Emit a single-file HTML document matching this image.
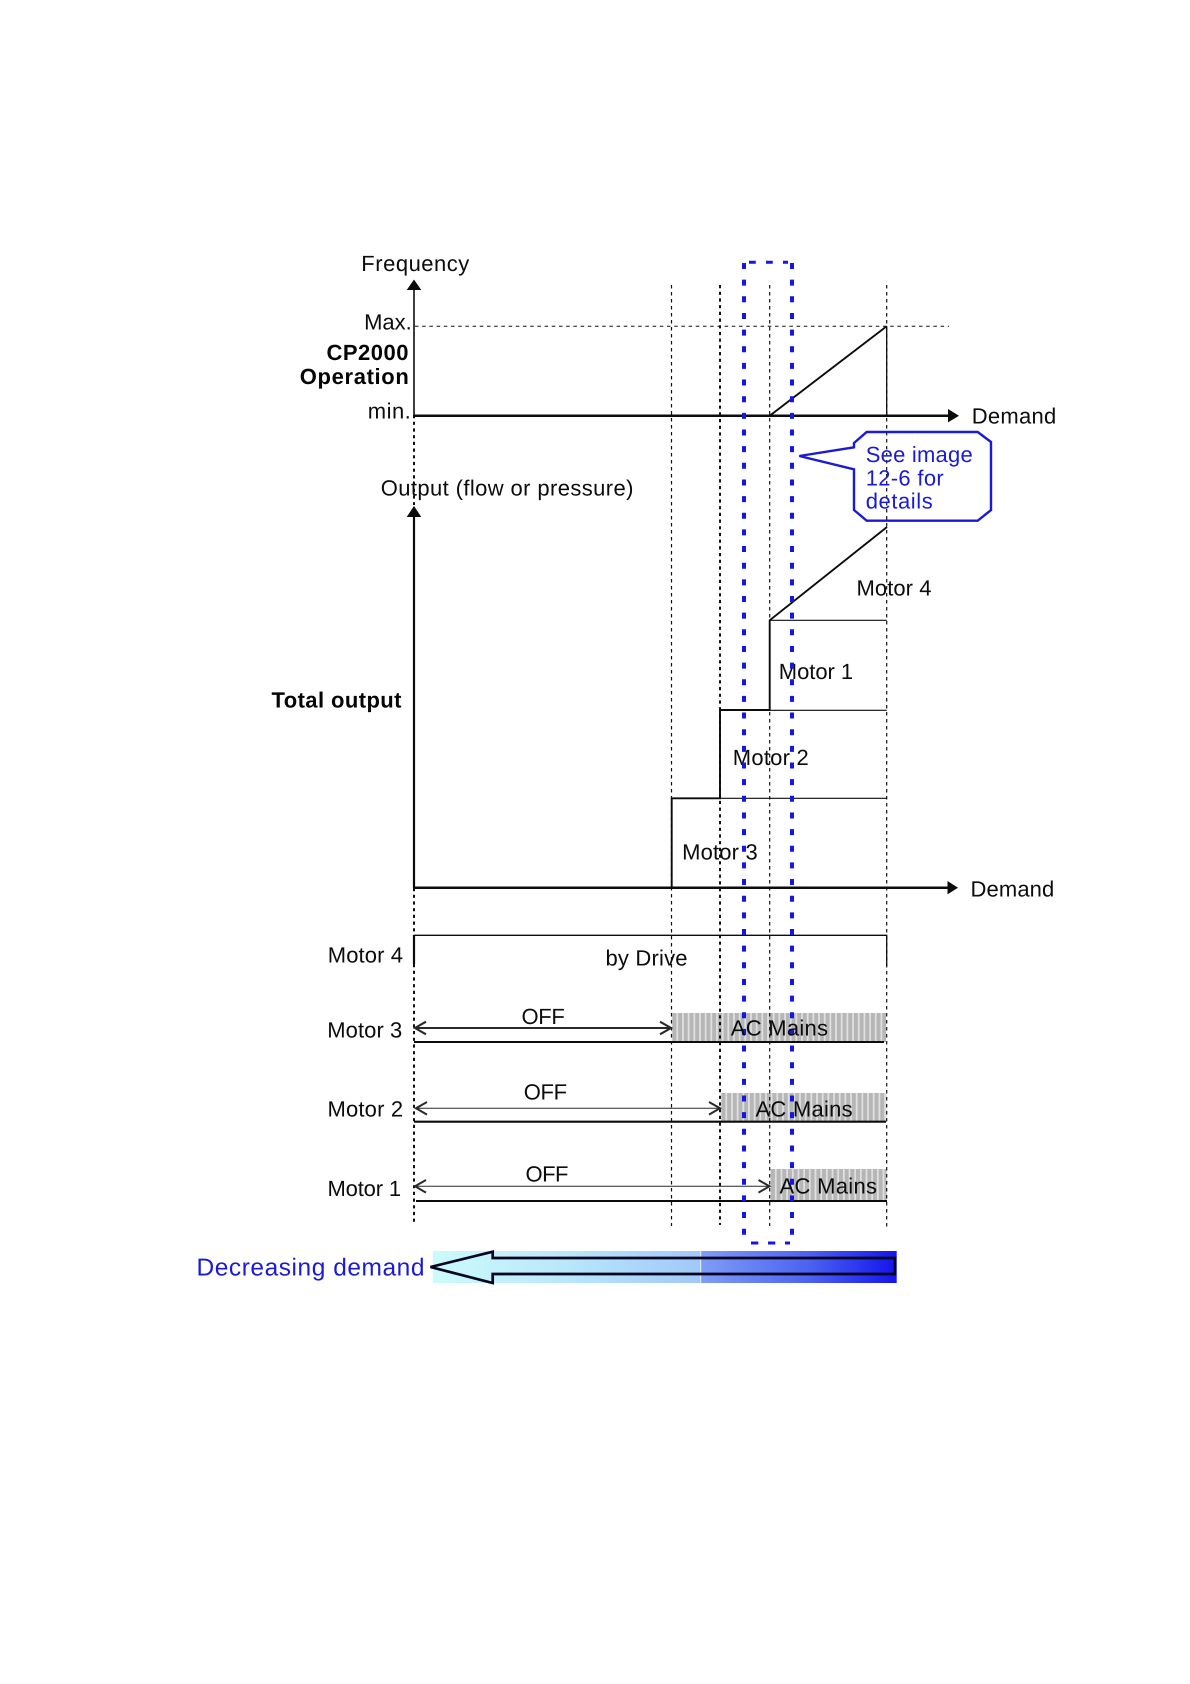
<!DOCTYPE html>
<html lang="en">
<head>
<meta charset="utf-8">
<title>Decreasing demand motor staging diagram</title>
<style>
html,body{margin:0;padding:0;background:#fff;width:1190px;height:1684px;overflow:hidden}
svg{display:block}
text{font-family:"Liberation Sans",Arial,sans-serif;font-size:22px;fill:#0c0c0c;text-rendering:geometricPrecision}
.b{font-weight:bold;fill:#050505}
.blue{fill:#1a1ad6}
</style>
</head>
<body>
<svg xmlns="http://www.w3.org/2000/svg" width="1190" height="1684" viewBox="0 0 1190 1684">
<defs>
<linearGradient id="g1" x1="0" x2="1" y1="0" y2="0">
<stop offset="0" stop-color="#ccfbfb"/>
<stop offset="0.5" stop-color="#b9e7fb"/>
<stop offset="1" stop-color="#a0c8fa"/>
</linearGradient>
<linearGradient id="g2" x1="0" x2="1" y1="0" y2="0">
<stop offset="0" stop-color="#7f9df6"/>
<stop offset="0.55" stop-color="#4c62f2"/>
<stop offset="1" stop-color="#1414ee"/>
</linearGradient>
</defs>

<!-- gradient band -->
<rect x="432.7" y="1251" width="268" height="32" fill="url(#g1)"/>
<rect x="700.7" y="1251" width="196" height="32" fill="url(#g2)"/>
<rect x="700.2" y="1251" width="1" height="32" fill="#e8f0ff"/>
<path d="M430.5 1267 L492.7 1251.7 V1258 H895 V1274 H492.7 V1283 Z" fill="none" stroke="#050520" stroke-width="2.7"/>

<!-- gray AC mains bars -->
<rect x="671.7" y="1013" width="214.3" height="29" fill="#e0e0e0"/>
<rect x="720.7" y="1093" width="165.5" height="28.5" fill="#e0e0e0"/>
<rect x="770" y="1169" width="116.5" height="32" fill="#e0e0e0"/>
<g fill="none" stroke="#b6b6b6" stroke-dasharray="3.9 1.77">
<path d="M672.5 1027.5H886" stroke-width="29"/>
<path d="M721.5 1107.25H886.2" stroke-width="28.5"/>
<path d="M771 1185H886.5" stroke-width="32"/>
</g>

<!-- dotted guides -->
<g fill="none" stroke="#111">
<path d="M414 415V505M414 888V935M414 964V1222" stroke-width="2" stroke-dasharray="3.2 3.5"/>
<path d="M720 285V1225" stroke-width="2" stroke-dasharray="3.2 3.5"/>
<path d="M671.5 285V1226M769.7 285V1226M886.7 285V1227" stroke-width="1.2" stroke-dasharray="3.5 3.5"/>
<path d="M415 326.3H949" stroke-width="1" stroke-dasharray="3.5 3.7"/>
</g>

<!-- axes -->
<g fill="none" stroke="#0c0c0c">
<path d="M414 289V416" stroke-width="1.6"/>
<path d="M414 415.7H949" stroke-width="2.5"/>
<path d="M414 516V888" stroke-width="2.2"/>
<path d="M414 887.7H948" stroke-width="2.5"/>
</g>
<g fill="#0c0c0c">
<path d="M414 279.5L421.3 290H406.7Z"/>
<path d="M414 506L421.3 517H406.7Z"/>
<path d="M959 415.7L948 409V422.4Z"/>
<path d="M958 887.7L947.5 881V894.4Z"/>
</g>

<!-- upper ramp -->
<g fill="none" stroke="#0c0c0c">
<path d="M769.7 415.7L886.7 326.3" stroke-width="1.9"/>
<path d="M886.7 326.3V416" stroke-width="1.3"/>
<!-- total output steps -->
<path d="M671.7 887.7V798.3H720V710H769.7V620.3L887 527" stroke-width="1.9"/>
<path d="M720 798.3H886.7M769.7 710.3H886.7M769.7 620.3H886.7" stroke-width="1.2"/>
<!-- Motor 4 -->
<path d="M414 935.3H886.7V966" stroke-width="1.3"/>
<path d="M414 935V964" stroke-width="2.2"/>
<!-- Motor lines -->
<path d="M414 1042H884M414 1121.7H886M416 1201H887" stroke-width="2.1"/>
<!-- OFF arrows -->
<path d="M415 1028H671" stroke-width="2" stroke="#2a2a2a"/>
<path d="M426 1021.7L415 1028L426 1034.3M660 1021.7L671 1028L660 1034.3" stroke-width="2.1" stroke="#2a2a2a"/>
<path d="M416 1108.3H719.5" stroke-width="1" stroke="#2a2a2a"/>
<path d="M427 1102L416 1108.3L427 1114.6M709 1102L720 1108.3L709 1114.6" stroke-width="2" stroke="#2a2a2a"/>
<path d="M415 1186.3H769" stroke-width="1" stroke="#2a2a2a"/>
<path d="M426 1180L415 1186.3L426 1192.6M758.5 1180L769.5 1186.3L758.5 1192.6" stroke-width="2" stroke="#2a2a2a"/>
</g>

<!-- labels -->
<g transform="translate(-0.2 0.6)">
<text x="361.5" y="270.5" textLength="108">Frequency</text>
<text x="364.3" y="329" textLength="47.7">Max.</text>
<text class="b" x="326.7" y="359.3" textLength="82">CP2000</text>
<text class="b" x="300" y="383.6" textLength="109">Operation</text>
<text x="368" y="418" textLength="43">min.</text>
<text x="381" y="495" textLength="252.6">Output (flow or pressure)</text>
<text x="972" y="423" textLength="84.4">Demand</text>
<text x="970.7" y="896" textLength="83.8">Demand</text>
<text class="b" x="271.7" y="707" textLength="130">Total output</text>
<text x="856.7" y="595" textLength="75">Motor 4</text>
<text x="779" y="678.3" textLength="74.3">Motor 1</text>
<text x="733" y="764.3" textLength="76">Motor 2</text>
<text x="682.3" y="859" textLength="75.6">Motor 3</text>
<text x="328" y="961.7" textLength="75.2">Motor 4</text>
<text x="327.5" y="1036.7" textLength="75">Motor 3</text>
<text x="327.7" y="1115.7" textLength="75.6">Motor 2</text>
<text x="327.7" y="1195.3" textLength="73.6">Motor 1</text>
<text x="605.7" y="965" textLength="82">by Drive</text>
<text x="521.7" y="1023.3" textLength="43.3">OFF</text>
<text x="524" y="1099" textLength="43.3">OFF</text>
<text x="525.7" y="1180.7" textLength="43">OFF</text>
</g>

<!-- callout -->
<path d="M799.3 456L854 447.3V443L866.7 432H977.7L991 442V510L977.7 520.7H866.7L854 510V469.3Z" fill="none" stroke="#1a1ad6" stroke-width="2.4"/>
<text class="blue" x="865.7" y="462" textLength="107">See image</text>
<text class="blue" x="865.7" y="485.3" textLength="78">12-6 for</text>
<text class="blue" x="865.7" y="508.3" textLength="67">details</text>

<text class="blue" x="196.5" y="1275.5" textLength="228" style="font-size:24.5px">Decreasing demand</text>

<!-- blue dashed box -->
<g fill="none" stroke="#1616e2">
<path d="M744 263V1236M792 263V1236" stroke-width="4" stroke-dasharray="6 10.65"/>
<path d="M749 262.3H788" stroke-width="3" stroke-dasharray="6.8 10.2"/>
<path d="M751 1243H790" stroke-width="3" stroke-dasharray="7.3 9.7"/>
</g>

<g transform="translate(-0.2 0.4)">
<text x="731" y="1035" textLength="97.2">AC Mains</text>
<text x="755.7" y="1116" textLength="97.1">AC Mains</text>
<text x="779.7" y="1193" textLength="97.5">AC Mains</text>
</g>
</svg>
</body>
</html>
